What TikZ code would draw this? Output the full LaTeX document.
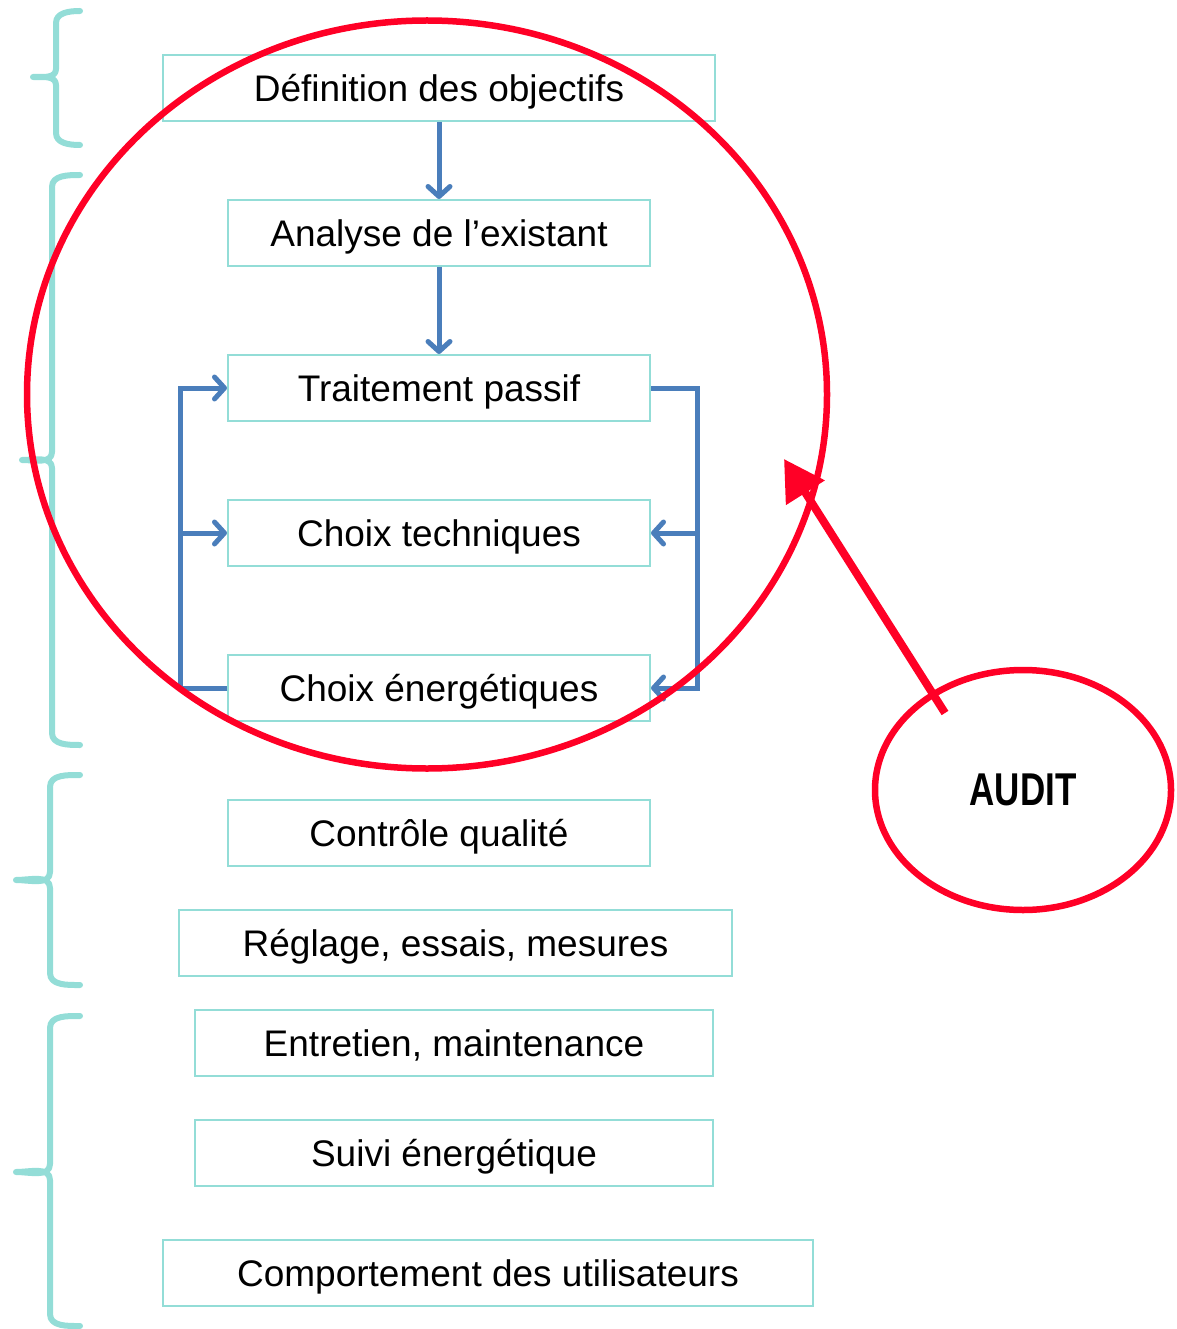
\documentclass[tikz,border=0pt]{standalone}
\usepackage{fontspec}
\setmainfont{Liberation Sans}
\usepackage{graphicx}
\usetikzlibrary{arrows.meta,shapes.geometric}
\definecolor{tealbox}{HTML}{93DDD7}
\definecolor{flowblue}{HTML}{4A7EBB}
\definecolor{auditred}{HTML}{FF0026}
\tikzset{
  stepbox/.style={draw=tealbox, line width=2pt, fill=white, inner sep=0pt,
    minimum height=66pt, text height=27pt, text depth=0pt, font=\fontsize{37}{40}\selectfont},
  barrow/.style={draw=flowblue, line width=5pt, -{Straight Barb[length=10pt,width=22pt,round]}},
  bracestyle/.style={draw=tealbox, line width=6pt, line cap=round, line join=round},
  redline/.style={draw=auditred, line width=6.5pt}
}
\newcommand{\mybrace}[5]{% vx, tipx, top, mid, bottom
  \draw[bracestyle] (80,#3) to[out=180,in=90] (#1,#3+12) -- (#1,#4-8)
    to[out=-90,in=0] (#2,#4) to[out=0,in=90] (#1,#4+8) -- (#1,#5-12)
    to[out=-90,in=180] (80,#5);}
\begin{document}
\begin{tikzpicture}[x=1pt,y=-1pt]
\useasboundingbox (0,0) rectangle (1176,1329);
% braces
\mybrace{56}{33}{11}{77}{145}
\mybrace{52}{22}{175}{460}{745}
\mybrace{50}{16}{775}{880}{985}
\mybrace{50}{16}{1016}{1172}{1326}
% boxes
\node[stepbox, minimum width=552pt] (def) at (439,88) {Définition des objectifs};
\node[stepbox, minimum width=422pt] (ana) at (439,233) {Analyse de l’existant};
\node[stepbox, minimum width=422pt] (trait) at (439,388) {Traitement passif};
\node[stepbox, minimum width=422pt] (tech) at (439,533) {Choix techniques};
\node[stepbox, minimum width=422pt] (ener) at (439,688) {Choix énergétiques};
\node[stepbox, minimum width=422pt] (ctrl) at (439,833) {Contrôle qualité};
\node[stepbox, minimum width=553pt] (regl) at (455.5,943) {Réglage, essais, mesures};
\node[stepbox, minimum width=518pt] (entr) at (454,1043) {Entretien, maintenance};
\node[stepbox, minimum width=518pt] (suivi) at (454,1153) {Suivi énergétique};
\node[stepbox, minimum width=650pt] (comp) at (488,1273) {Comportement des utilisateurs};
% blue connectors
\coordinate (L) at (180,0);
\coordinate (R) at (697,0);
\draw[barrow] (def.south) -- (ana.north);
\draw[barrow] (ana.south) -- (trait.north);
\draw[barrow] (ener.west) -- (ener.west -| L) |- (trait.west);
\draw[barrow] (tech.west -| L) -- (tech.west);
\draw[barrow] (trait.east) -| (R |- ener.east) -- (ener.east);
\draw[barrow] (tech.east -| R) -- (tech.east);
% big red ellipse
\draw[redline] (427,394.5) ellipse [x radius=400, y radius=374];
% audit ellipse
\node[ellipse, draw=auditred, line width=6.5pt, minimum width=296pt, minimum height=240pt, inner sep=0pt]
  (audit) at (1023,790) {\raisebox{-3pt}{\scalebox{0.76}[1]{\fontsize{46}{50}\selectfont\bfseries AUDIT}}};
\coordinate (arrstart) at (945,713);
\coordinate (arrtip) at (784,459);
\draw[draw=auditred, fill=auditred, line width=8pt, -{Triangle[length=40pt,width=44pt]}] (arrstart) -- (arrtip);
\end{tikzpicture}
\end{document}
